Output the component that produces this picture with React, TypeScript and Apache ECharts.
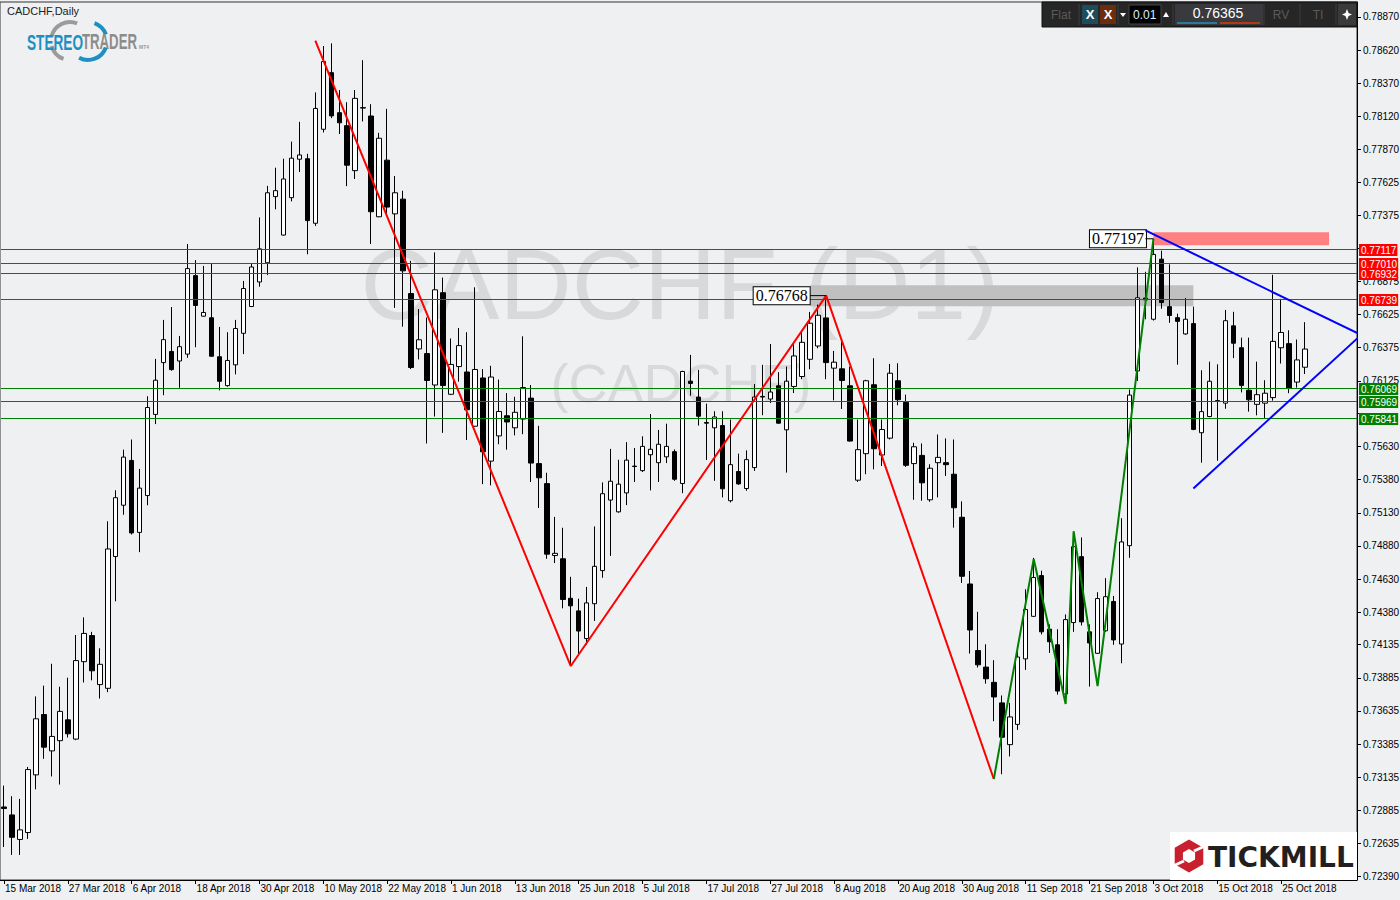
import React, { useEffect, useRef } from "react";
import * as echarts from "echarts";

// ---------- DATA ----------
const START_DATE = "2018-03-15";
const EMPTY_SLOTS = 6;
const MONTHS = ["Jan", "Feb", "Mar", "Apr", "May", "Jun", "Jul", "Aug", "Sep", "Oct", "Nov", "Dec"];

const opens = [
  0.72911, 0.72851, 0.72666, 0.72718, 0.73153, 0.73608, 0.73334, 0.73411, 0.73568, 0.73423,
  0.74007, 0.74204, 0.73834, 0.73806, 0.748, 0.75187, 0.75525, 0.74982, 0.7526, 0.75872,
  0.76263, 0.76347, 0.76275, 0.76327, 0.76919, 0.76613, 0.76601, 0.76307, 0.76089, 0.76246,
  0.76484, 0.76686, 0.76871, 0.77016, 0.77515, 0.77225, 0.77507, 0.77797, 0.77801, 0.77314,
  0.78023, 0.7845, 0.78148, 0.7805, 0.77711, 0.78186, 0.78123, 0.77363, 0.7779, 0.77385,
  0.77496, 0.76784, 0.76366, 0.76331, 0.76094, 0.7679, 0.76024, 0.76233, 0.76192, 0.75783,
  0.76147, 0.7552, 0.7571, 0.75862, 0.75771, 0.75837, 0.75995, 0.75501, 0.7535, 0.74808,
  0.74783, 0.74485, 0.7439, 0.74181, 0.74444, 0.74694, 0.75226, 0.75137, 0.7528, 0.75482,
  0.75448, 0.75568, 0.75508, 0.75552, 0.75591, 0.75351, 0.76123, 0.76003, 0.75811, 0.75771,
  0.75788, 0.75221, 0.75441, 0.75313, 0.75471, 0.76008, 0.75988, 0.76088, 0.75756, 0.76083,
  0.76158, 0.76288, 0.76388, 0.766, 0.76221, 0.76216, 0.76088, 0.75376, 0.75576, 0.76096,
  0.75566, 0.75693, 0.76126, 0.75963, 0.75501, 0.75563, 0.75228, 0.75508, 0.75508, 0.75421,
  0.75096, 0.74593, 0.74091, 0.73966, 0.73851, 0.73696, 0.73381, 0.73534, 0.74028, 0.74349,
  0.74656, 0.74252, 0.74134, 0.73763, 0.74302, 0.74799, 0.74232, 0.7407, 0.7424, 0.74461,
  0.7414, 0.74882, 0.762, 0.7675, 0.7659, 0.77043, 0.76685, 0.76602, 0.76479, 0.76557,
  0.75734, 0.75856, 0.75976, 0.75957, 0.7654, 0.76375, 0.76055, 0.75948, 0.75957, 0.75999,
  0.76375, 0.76406, 0.76116, 0.76228,
];
const highs = [
  0.73072, 0.72992, 0.72972, 0.73213, 0.73745, 0.73826, 0.73991, 0.73818, 0.73886, 0.74208,
  0.74341, 0.74232, 0.74108, 0.75066, 0.753, 0.75606, 0.75683, 0.75461, 0.76009, 0.76291,
  0.76585, 0.76682, 0.76464, 0.77157, 0.77036, 0.76992, 0.77008, 0.76532, 0.76492, 0.76585,
  0.76879, 0.77012, 0.77358, 0.77596, 0.77733, 0.77801, 0.7793, 0.78079, 0.77838, 0.78301,
  0.78651, 0.78671, 0.78319, 0.78227, 0.78319, 0.78544, 0.78212, 0.77996, 0.78177, 0.7767,
  0.77559, 0.77031, 0.76667, 0.76603, 0.77094, 0.76904, 0.76445, 0.76524, 0.76492, 0.76831,
  0.76214, 0.76239, 0.76135, 0.76033, 0.76005, 0.76461, 0.76094, 0.75786, 0.75432, 0.75099,
  0.75017, 0.74647, 0.74482, 0.74571, 0.75027, 0.75359, 0.75612, 0.7553, 0.75663, 0.75619,
  0.75707, 0.75875, 0.75755, 0.75802, 0.75608, 0.76201, 0.76321, 0.76208, 0.75953, 0.75896,
  0.75896, 0.75833, 0.75576, 0.75601, 0.76101, 0.76246, 0.76403, 0.76191, 0.76233, 0.76408,
  0.76509, 0.76645, 0.767, 0.76768, 0.76351, 0.7642, 0.76233, 0.75833, 0.76133, 0.76296,
  0.75833, 0.76253, 0.76258, 0.76021, 0.75658, 0.75653, 0.75496, 0.75721, 0.75691, 0.75683,
  0.75216, 0.74691, 0.74383, 0.74138, 0.74018, 0.73752, 0.73696, 0.74134, 0.74553, 0.7479,
  0.74693, 0.74288, 0.74252, 0.74363, 0.74986, 0.74944, 0.74288, 0.74531, 0.74637, 0.74503,
  0.75089, 0.7606, 0.76981, 0.76948, 0.77197, 0.77107, 0.77004, 0.76632, 0.7675, 0.76685,
  0.76205, 0.7627, 0.7625, 0.7666, 0.76646, 0.76451, 0.76451, 0.7627, 0.7613, 0.76925,
  0.76744, 0.76507, 0.76437, 0.76568,
];
const lows = [
  0.72609, 0.72549, 0.72549, 0.7267, 0.73044, 0.73274, 0.73141, 0.7308, 0.73435, 0.73415,
  0.7385, 0.73866, 0.73729, 0.73777, 0.74462, 0.75115, 0.74966, 0.74833, 0.75187, 0.75799,
  0.76017, 0.76202, 0.76073, 0.76299, 0.76379, 0.76609, 0.76307, 0.76053, 0.76081, 0.76174,
  0.76327, 0.76682, 0.76835, 0.76923, 0.77419, 0.77221, 0.77479, 0.77701, 0.7708, 0.77294,
  0.77999, 0.78107, 0.77987, 0.77594, 0.77648, 0.78082, 0.77157, 0.7736, 0.77379, 0.76676,
  0.76534, 0.76214, 0.76287, 0.75653, 0.75856, 0.75733, 0.76018, 0.76119, 0.75679, 0.7578,
  0.75346, 0.75337, 0.75647, 0.75606, 0.75714, 0.75723, 0.75362, 0.75166, 0.74783, 0.74751,
  0.74409, 0.73975, 0.74055, 0.74134, 0.74314, 0.7464, 0.74805, 0.75131, 0.75188, 0.75362,
  0.75438, 0.75299, 0.75362, 0.75505, 0.75371, 0.75278, 0.76013, 0.75788, 0.75528, 0.75371,
  0.75246, 0.75208, 0.75341, 0.75296, 0.75446, 0.75866, 0.75958, 0.75803, 0.75433, 0.76033,
  0.76138, 0.76213, 0.76371, 0.76138, 0.75978, 0.75913, 0.75668, 0.75363, 0.75421, 0.75458,
  0.75483, 0.75683, 0.75941, 0.75476, 0.75228, 0.75221, 0.75213, 0.75246, 0.75408, 0.75018,
  0.74601, 0.74068, 0.73963, 0.73841, 0.73558, 0.73158, 0.73292, 0.73492, 0.73945, 0.74344,
  0.74212, 0.74073, 0.73758, 0.73752, 0.74232, 0.7428, 0.73819, 0.74065, 0.74232, 0.74134,
  0.73995, 0.7479, 0.76124, 0.7659, 0.7658, 0.76669, 0.76563, 0.76247, 0.76473, 0.75753,
  0.75508, 0.75851, 0.75522, 0.75915, 0.76297, 0.76038, 0.75893, 0.75865, 0.75842, 0.75976,
  0.76256, 0.76032, 0.76074, 0.76177,
];
const closes = [
  0.72899, 0.72682, 0.72738, 0.73193, 0.73576, 0.73362, 0.73443, 0.73632, 0.73463, 0.74015,
  0.7422, 0.73938, 0.73987, 0.74857, 0.75244, 0.7555, 0.74978, 0.75316, 0.75924, 0.7613,
  0.76436, 0.7621, 0.76383, 0.76972, 0.76694, 0.76641, 0.76311, 0.76122, 0.76279, 0.7652,
  0.76822, 0.76984, 0.77121, 0.77544, 0.7756, 0.77648, 0.77805, 0.77829, 0.77334, 0.7818,
  0.78534, 0.78124, 0.78072, 0.77752, 0.78256, 0.78183, 0.77401, 0.77955, 0.77436, 0.77544,
  0.76955, 0.76226, 0.76435, 0.76128, 0.76812, 0.7609, 0.76249, 0.76391, 0.75907, 0.76211,
  0.7559, 0.76154, 0.75894, 0.75815, 0.75888, 0.76075, 0.75505, 0.75394, 0.74818, 0.74824,
  0.74476, 0.74428, 0.74238, 0.7445, 0.74726, 0.75274, 0.75368, 0.75346, 0.75527, 0.75479,
  0.75631, 0.75609, 0.75647, 0.75631, 0.75383, 0.76196, 0.76106, 0.75858, 0.75806, 0.75853,
  0.75311, 0.75493, 0.75348, 0.75531, 0.76003, 0.76003, 0.76041, 0.75806, 0.76123, 0.76313,
  0.76416, 0.7656, 0.7662, 0.76263, 0.76266, 0.76128, 0.75671, 0.75606, 0.76126, 0.75613,
  0.75758, 0.76183, 0.75983, 0.75488, 0.75628, 0.75356, 0.75466, 0.75548, 0.75493, 0.75168,
  0.74651, 0.74246, 0.73983, 0.73878, 0.73741, 0.73437, 0.7359, 0.74042, 0.744, 0.74642,
  0.74232, 0.74157, 0.73785, 0.74324, 0.74874, 0.74307, 0.74148, 0.74483, 0.74497, 0.74171,
  0.7491, 0.76018, 0.76752, 0.76736, 0.77079, 0.76716, 0.76618, 0.76574, 0.7659, 0.75759,
  0.75893, 0.76122, 0.75973, 0.76579, 0.76409, 0.76091, 0.75982, 0.76021, 0.76032, 0.76423,
  0.7649, 0.76071, 0.76283, 0.76365,
];

const yTickValues = [
  0.7239, 0.72635, 0.72885, 0.73135, 0.73385, 0.73635, 0.73885, 0.74135, 0.7438, 0.7463,
  0.7488, 0.7513, 0.7538, 0.7563, 0.7588, 0.76125, 0.76375, 0.76625, 0.76875, 0.77125,
  0.77375, 0.77625, 0.7787, 0.7812, 0.7837, 0.7862, 0.7887,
];
const yHiddenLabels = [0.7588, 0.77125];

const redLevels = [0.77117, 0.7701, 0.76932, 0.76739];
const greenLevels = [0.76069, 0.75969, 0.75841];

const redZigzag = [[39, 0.78691], [71, 0.73974], [103, 0.76768], [124, 0.73122]];
const greenZigzag = [[124, 0.73122], [129, 0.74782], [133, 0.73688], [134, 0.74991], [137, 0.73822], [144, 0.77197]];
const upperTrend = [[143, 0.7726], [170, 0.76472]];
const lowerTrend = [[149, 0.75313], [170, 0.76471]];
const greyZone = [[101, 0.76847], [149, 0.76688]];
const pinkZone = [[144, 0.77246], [166, 0.77149]];
const peakA = { index: 103, price: 0.76768, from: 101 };
const peakB = { index: 144, price: 0.77197, from: 143 };

const symbolText = "CADCHF,Daily";
const watermarkMain = "CADCHF (D1)";
const watermarkSub = "(CADCHF)";
const lastPrice = "0.76365";
const lotSize = "0.01";

// layout constants
const GRID_LEFT = 0;
const GRID_TOP = 2;
const GRID_W = 1357;
const GRID_H = 878;

function weekdayDates(start: string, n: number): string[] {
  const out: string[] = [];
  const d = new Date(start + "T00:00:00Z");
  while (out.length < n) {
    const wd = d.getUTCDay();
    if (wd !== 0 && wd !== 6) out.push(`${d.getUTCDate()} ${MONTHS[d.getUTCMonth()]} ${d.getUTCFullYear()}`);
    d.setUTCDate(d.getUTCDate() + 1);
  }
  return out;
}

export default function App() {
  const ref = useRef<HTMLDivElement>(null);

  useEffect(() => {
    if (!ref.current) return;
    const chart = echarts.init(ref.current, null, { renderer: "svg" });
    const N = opens.length;
    const categories = [...weekdayDates(START_DATE, N), ...Array(EMPTY_SLOTS).fill("")];
    const showIdx = (i: number) => i % 8 === 0 && i < N;
    const candleData = opens.map((o, i) => [o, closes[i], lows[i], highs[i]]);

    const peakLabel = (p: { index: number; price: number }, dist: number) => ({
      coord: [p.index, p.price],
      symbol: "rect",
      symbolSize: 1,
      itemStyle: { color: "rgba(0,0,0,0)" },
      label: {
        show: true,
        position: "left",
        distance: dist,
        formatter: p.price.toFixed(5),
        backgroundColor: "#ffffff",
        borderColor: "#000000",
        borderWidth: 1,
        color: "#000000",
        fontSize: 16,
        fontFamily: "Liberation Serif",
        padding: [1, 2, 0, 2],
      },
    });

    const hex = (cx: number, cy: number, r: number) => {
      const pts: number[][] = [];
      for (let k = 0; k < 6; k++) {
        const a = (Math.PI / 3) * k - Math.PI / 2;
        pts.push([cx + r * Math.cos(a), cy + r * Math.sin(a)]);
      }
      return pts;
    };

    const baseGraphics: any[] = [
      {
        type: "text",
        z: 0,
        silent: true,
        x: 680,
        y: 284,
        style: {
          text: watermarkMain,
          fill: "#D8D9DB",
          font: "100px 'Liberation Sans', Arial, sans-serif",
          textAlign: "center",
          textVerticalAlign: "middle",
        },
      },
      {
        type: "text",
        z: 0,
        silent: true,
        x: 681,
        y: 383,
        style: {
          text: watermarkSub,
          fill: "#D8D9DB",
          font: "54px 'Liberation Sans', Arial, sans-serif",
          textAlign: "center",
          textVerticalAlign: "middle",
        },
      },
      {
        type: "text",
        z: 100,
        x: 7,
        y: 11,
        style: { text: symbolText, fill: "#222", font: "11px 'Liberation Sans', Arial, sans-serif", textVerticalAlign: "middle" },
      },
      { type: "arc", z: 100, shape: { cx: 70, cy: 41, r: 19, startAngle: (195 * Math.PI) / 180, endAngle: (292 * Math.PI) / 180 }, style: { stroke: "#9B9B9B", lineWidth: 4, fill: null } },
      { type: "arc", z: 100, shape: { cx: 70, cy: 41, r: 19, startAngle: (110 * Math.PI) / 180, endAngle: (165 * Math.PI) / 180 }, style: { stroke: "#9B9B9B", lineWidth: 4, fill: null } },
      { type: "arc", z: 100, shape: { cx: 88, cy: 41, r: 19, startAngle: (20 * Math.PI) / 180, endAngle: (118 * Math.PI) / 180 }, style: { stroke: "#1D8FC1", lineWidth: 4, fill: null } },
      { type: "arc", z: 100, shape: { cx: 88, cy: 41, r: 19, startAngle: (290 * Math.PI) / 180, endAngle: (340 * Math.PI) / 180 }, style: { stroke: "#1D8FC1", lineWidth: 4, fill: null } },
      {
        type: "text",
        z: 101,
        x: 27,
        y: 42,
        scaleX: 0.62,
        style: { text: "STEREO", fill: "#1D8FC1", font: "bold 22px 'Liberation Sans', Arial, sans-serif", textVerticalAlign: "middle" },
      },
      {
        type: "text",
        z: 101,
        x: 82,
        y: 42,
        scaleX: 0.6,
        style: { text: "TRADER", fill: "#8C8C8C", font: "bold 22px 'Liberation Sans', Arial, sans-serif", textVerticalAlign: "middle" },
      },
      {
        type: "text",
        z: 101,
        x: 139,
        y: 47,
        style: { text: "MT4", fill: "#9B9B9B", font: "bold 5px 'Liberation Sans', Arial, sans-serif", textVerticalAlign: "middle" },
      },
      { type: "rect", z: 100, shape: { x: 1042, y: 2, width: 315, height: 25 }, style: { fill: "#262626", stroke: "#111", lineWidth: 1 } },
      { type: "text", z: 101, x: 1061, y: 14.5, style: { text: "Flat", fill: "#5A5A5A", font: "12px 'Liberation Sans', Arial, sans-serif", textAlign: "center", textVerticalAlign: "middle" } },
      ...[1079, 1118, 1173, 1264, 1300, 1336].map((x) => ({
        type: "line",
        z: 101,
        shape: { x1: x, y1: 4, x2: x, y2: 25 },
        style: { stroke: "#3C3C3C", lineWidth: 1 },
      })),
      { type: "rect", z: 101, shape: { x: 1082, y: 5, width: 16, height: 19 }, style: { fill: "#1D4D5C" } },
      { type: "text", z: 102, x: 1090, y: 14.5, style: { text: "X", fill: "#FFFFFF", font: "bold 13px 'Liberation Sans', Arial, sans-serif", textAlign: "center", textVerticalAlign: "middle" } },
      { type: "rect", z: 101, shape: { x: 1100, y: 5, width: 16, height: 19 }, style: { fill: "#6B2C10" } },
      { type: "text", z: 102, x: 1108, y: 14.5, style: { text: "X", fill: "#FFFFFF", font: "bold 13px 'Liberation Sans', Arial, sans-serif", textAlign: "center", textVerticalAlign: "middle" } },
      { type: "polygon", z: 102, shape: { points: [[1120, 13], [1126, 13], [1123, 17]] }, style: { fill: "#FFFFFF" } },
      { type: "rect", z: 101, shape: { x: 1129, y: 5, width: 32, height: 19 }, style: { fill: "#000000", stroke: "#444", lineWidth: 1 } },
      { type: "text", z: 102, x: 1133, y: 14.5, style: { text: lotSize, fill: "#DDEEFF", font: "12px 'Liberation Sans', Arial, sans-serif", textVerticalAlign: "middle" } },
      { type: "polygon", z: 102, shape: { points: [[1163, 17], [1169, 17], [1166, 12]] }, style: { fill: "#FFFFFF" } },
      { type: "rect", z: 101, shape: { x: 1175, y: 4, width: 88, height: 21 }, style: { fill: "#3A3A3E" } },
      { type: "text", z: 102, x: 1218, y: 13, style: { text: lastPrice, fill: "#FFFFFF", font: "14px 'Liberation Sans', Arial, sans-serif", textAlign: "center", textVerticalAlign: "middle" } },
      { type: "rect", z: 102, shape: { x: 1177, y: 22, width: 40, height: 2 }, style: { fill: "#2B7A9B" } },
      { type: "rect", z: 102, shape: { x: 1220, y: 22, width: 40, height: 2 }, style: { fill: "#B33A17" } },
      { type: "text", z: 101, x: 1281, y: 14.5, style: { text: "RV", fill: "#5A5A5A", font: "12px 'Liberation Sans', Arial, sans-serif", textAlign: "center", textVerticalAlign: "middle" } },
      { type: "text", z: 101, x: 1318, y: 14.5, style: { text: "TI", fill: "#5A5A5A", font: "12px 'Liberation Sans', Arial, sans-serif", textAlign: "center", textVerticalAlign: "middle" } },
      { type: "rect", z: 101, shape: { x: 1338, y: 4, width: 18, height: 21 }, style: { fill: "#3A3A3A" } },
      {
        type: "polygon",
        z: 102,
        shape: { points: [[1347, 9], [1348.5, 13], [1352, 14.5], [1348.5, 16], [1347, 20], [1345.5, 16], [1342, 14.5], [1345.5, 13]] },
        style: { fill: "#FFFFFF" },
      },
      { type: "rect", z: 100, shape: { x: 1170, y: 832, width: 187, height: 48 }, style: { fill: "#FFFFFF" } },
      { type: "polygon", z: 101, shape: { points: hex(1189, 856, 16.5) }, style: { fill: "#C8202F" } },
      { type: "polygon", z: 102, shape: { points: hex(1189, 856, 7) }, style: { fill: "#FFFFFF" } },
      { type: "line", z: 103, shape: { x1: 1194, y1: 851, x2: 1205, y2: 846 }, style: { stroke: "#FFFFFF", lineWidth: 3 } },
      { type: "line", z: 103, shape: { x1: 1184, y1: 861, x2: 1173, y2: 866 }, style: { stroke: "#FFFFFF", lineWidth: 3 } },
      {
        type: "text",
        z: 101,
        x: 1208,
        y: 857,
        style: { text: "TICKMILL", fill: "#231F20", font: "bold 28px 'DejaVu Sans', sans-serif", textVerticalAlign: "middle" },
      },
    ];

    const option: any = {
      animation: false,
      backgroundColor: "#EFF0F2",
      grid: {
        left: GRID_LEFT,
        top: GRID_TOP,
        width: GRID_W,
        height: GRID_H,
        show: true,
        borderColor: "#333",
        borderWidth: 1,
        backgroundColor: "transparent",
        containLabel: false,
        outerBoundsMode: "none",
      },
      xAxis: {
        type: "category",
        data: categories,
        boundaryGap: true,
        axisLine: { show: true, lineStyle: { color: "#000", width: 1 } },
        axisTick: { show: true, alignWithLabel: true, interval: (i: number) => showIdx(i), length: 4, lineStyle: { color: "#000" } },
        axisLabel: {
          interval: (i: number) => showIdx(i),
          align: "left",
          color: "#000",
          fontSize: 10,
          fontFamily: "Liberation Sans",
          margin: 3,
          padding: [0, 0, 0, 1],
        },
        splitLine: { show: false },
      },
      yAxis: {
        type: "value",
        position: "right",
        min: 0.7236,
        max: 0.78983,
        axisLine: { show: true, lineStyle: { color: "#000", width: 1 } },
        axisTick: { show: true, length: 4, lineStyle: { color: "#000" }, customValues: yTickValues },
        axisLabel: {
          show: true,
          customValues: yTickValues.filter((v) => !yHiddenLabels.includes(v)),
          formatter: (v: number) => v.toFixed(5),
          color: "#000",
          fontSize: 10,
          fontFamily: "Liberation Sans",
          margin: 6,
        },
        splitLine: { show: false },
      },
      series: [
        {
          type: "line",
          name: "zones",
          data: [],
          z: 1,
          silent: true,
          markArea: {
            silent: true,
            data: [
              [
                { xAxis: greyZone[0][0], yAxis: greyZone[0][1], itemStyle: { color: "#C0C0C0" } },
                { xAxis: greyZone[1][0], yAxis: greyZone[1][1] },
              ],
              [
                { xAxis: pinkZone[0][0], yAxis: pinkZone[0][1], itemStyle: { color: "#FF8080" } },
                { xAxis: pinkZone[1][0], yAxis: pinkZone[1][1] },
              ],
            ],
          },
        },
        {
          type: "candlestick",
          name: "CADCHF",
          data: candleData,
          barWidth: 5,
          z: 3,
          itemStyle: {
            color: "#FFFFFF",
            color0: "#000000",
            borderColor: "#000000",
            borderColor0: "#000000",
            borderColorDoji: "#000000",
            borderWidth: 1,
          },
        },
        {
          type: "line",
          name: "redZigzag",
          data: redZigzag,
          showSymbol: false,
          z: 5,
          lineStyle: { color: "#FF0000", width: 2 },
          markPoint: { silent: true, data: [peakLabel(peakA, 16)] },
        },
        {
          type: "line",
          name: "greenZigzag",
          data: greenZigzag,
          showSymbol: false,
          z: 5,
          lineStyle: { color: "#008000", width: 2 },
          markPoint: { silent: true, data: [peakLabel(peakB, 7)] },
        },
        {
          type: "line",
          name: "upperTrend",
          data: upperTrend,
          showSymbol: false,
          clip: true,
          z: 5,
          lineStyle: { color: "#0000FF", width: 2 },
        },
        {
          type: "line",
          name: "lowerTrend",
          data: lowerTrend,
          showSymbol: false,
          clip: true,
          z: 5,
          lineStyle: { color: "#0000FF", width: 2 },
        },
        {
          type: "line",
          name: "connA",
          data: [[peakA.from, peakA.price], [peakA.index, peakA.price]],
          showSymbol: false,
          z: 5,
          lineStyle: { color: "#000", width: 1 },
        },
        {
          type: "line",
          name: "connB",
          data: [[peakB.from, peakB.price], [peakB.index, peakB.price]],
          showSymbol: false,
          z: 5,
          lineStyle: { color: "#000", width: 1 },
        },
      ],
      graphic: baseGraphics,
    };

    chart.setOption(option);

    // horizontal price levels, positioned through the y axis scale
    const levelGraphics: any[] = [];
    const levels: [number, string][] = [
      ...redLevels.map((v) => [v, "#FF0000"] as [number, string]),
      ...greenLevels.map((v) => [v, "#008000"] as [number, string]),
    ];
    levels.forEach(([v, color]) => {
      const py = chart.convertToPixel({ yAxisIndex: 0 }, v) as number;
      const y = Math.floor(py) + 0.5;
      levelGraphics.push({
        type: "line",
        z: 4,
        silent: true,
        shape: { x1: GRID_LEFT + 1, y1: y, x2: GRID_LEFT + GRID_W, y2: y },
        style: { stroke: color, lineWidth: 1 },
      });
      levelGraphics.push({
        type: "text",
        z: 60,
        silent: true,
        x: GRID_LEFT + GRID_W + 2,
        y: Math.floor(py) + 1,
        style: {
          text: v.toFixed(5),
          fill: "#FFFFFF",
          backgroundColor: color,
          font: "10px 'Liberation Sans', Arial, sans-serif",
          padding: [1, 1, 1, 2],
          textVerticalAlign: "middle",
        },
      });
    });
    chart.setOption({ graphic: [...baseGraphics, ...levelGraphics] });

    return () => chart.dispose();
  }, []);

  return <div ref={ref} style={{ position: "fixed", left: 0, top: 0, width: 1400, height: 900 }} />;
}
